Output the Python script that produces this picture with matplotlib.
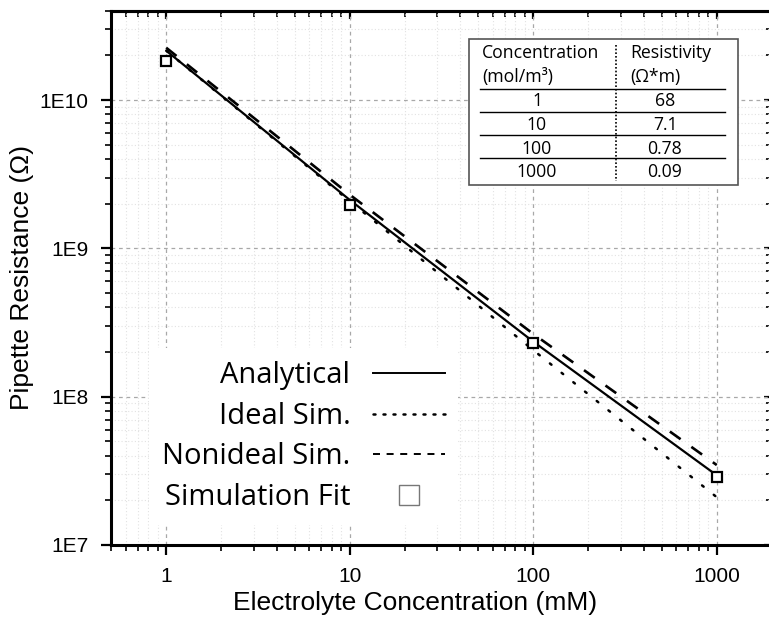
import matplotlib
matplotlib.use("Agg")
import matplotlib.pyplot as plt
from matplotlib.lines import Line2D
from matplotlib.patches import Rectangle
from matplotlib.ticker import LogLocator, FixedLocator, FixedFormatter, NullFormatter

# data
conc = [1, 10, 100, 1000]
analytical = [2.15e10, 2.12e9, 2.35e8, 2.95e7]
ideal_sim = [2.15e10, 2.08e9, 2.06e8, 2.1e7]
nonideal_sim = [2.25e10, 2.3e9, 2.65e8, 3.46e7]
sim_fit = [1.83e10, 1.96e9, 2.29e8, 2.88e7]

xtick_vals = [1, 10, 100, 1000]
xtick_labels = ["1", "10", "100", "1000"]
ytick_vals = [1e7, 1e8, 1e9, 1e10]
ytick_labels = ["1E7", "1E8", "1E9", "1E10"]

legend_labels = ["Analytical", "Ideal Sim.", "Nonideal Sim.", "Simulation Fit"]

table_header = [("Concentration", "Resistivity"), ("(mol/m\u00b3)", "(\u03a9*m)")]
table_conc = ["1", "10", "100", "1000"]
table_rho = ["68", "7.1", "0.78", "0.09"]

W, H = 769, 617
fig = plt.figure(figsize=(W / 100, H / 100), dpi=100)


def px(x, y):
    # pixel position -> figure fraction
    return x / W, 1 - y / H


ax = fig.add_axes([111 / W, (H - 545) / H, (772 - 111) / W, (545 - 10.7) / H])
ax.set_xscale("log")
ax.set_yscale("log")
ax.set_xlim(0.5, 2000)
ax.set_ylim(1e7, 4e10)

tick_font = {"family": "Liberation Sans", "size": 15}
label_font = {"family": "Liberation Sans", "size": 19}

ax.xaxis.set_major_locator(FixedLocator(xtick_vals))
ax.xaxis.set_major_formatter(FixedFormatter(xtick_labels))
ax.yaxis.set_major_locator(FixedLocator(ytick_vals))
ax.yaxis.set_major_formatter(FixedFormatter(ytick_labels))
for a in (ax.xaxis, ax.yaxis):
    a.set_minor_locator(LogLocator(base=10, subs=range(2, 10), numticks=20))
    a.set_minor_formatter(NullFormatter())
for lab in ax.get_xticklabels() + ax.get_yticklabels():
    lab.set_fontfamily(tick_font["family"])
    lab.set_fontsize(tick_font["size"])

ax.tick_params(which="major", direction="out", length=7, width=1.6, pad=9)
ax.tick_params(which="minor", direction="out", length=4, width=1.2)
ax.tick_params(axis="y", which="major", pad=9)
for s in ax.spines.values():
    s.set_linewidth(2.2)

# top / right ticks point inward
top = ax.secondary_xaxis("top")
top.xaxis.set_major_locator(FixedLocator(xtick_vals))
top.xaxis.set_minor_locator(LogLocator(base=10, subs=range(2, 10), numticks=20))
top.xaxis.set_major_formatter(NullFormatter())
top.xaxis.set_minor_formatter(NullFormatter())
top.tick_params(which="major", direction="in", length=6, width=1.6)
top.tick_params(which="minor", direction="in", length=4, width=1.2)
top.spines["top"].set_linewidth(2.2)
right = ax.secondary_yaxis("right")
right.yaxis.set_major_locator(FixedLocator(ytick_vals))
right.yaxis.set_minor_locator(LogLocator(base=10, subs=range(2, 10), numticks=20))
right.yaxis.set_major_formatter(NullFormatter())
right.yaxis.set_minor_formatter(NullFormatter())
right.tick_params(which="major", direction="in", length=6, width=1.6)
right.tick_params(which="minor", direction="in", length=4, width=1.2)

ax.grid(which="major", linestyle=(0, (3, 3)), color="#a8a8a8", linewidth=0.9)
ax.grid(which="minor", linestyle=(0, (1, 2)), color="#e2e2e2", linewidth=0.8)
ax.set_axisbelow(True)

ax.plot(conc, analytical, color="black", linewidth=1.6, solid_capstyle="butt", zorder=3)
ax.plot(conc, ideal_sim, color="black", linewidth=1.8, linestyle=(0, (0.8, 5.2)),
        dash_capstyle="round", zorder=3)
ax.plot(conc, nonideal_sim, color="black", linewidth=1.9, linestyle=(0, (5.0, 5.0)), zorder=3)
ax.plot(conc, sim_fit, linestyle="none", marker="s", markersize=7.5,
        markerfacecolor="white", markeredgecolor="black", markeredgewidth=1.6, zorder=4)

ax.set_xlabel("Electrolyte Concentration (mM)", fontdict=label_font)
ax.xaxis.set_label_coords((415 - 111) / (772 - 111), -(603 - 545) / (545 - 10.7), transform=ax.transAxes)
ax.xaxis.label.set_va("center")
ax.set_ylabel("Pipette Resistance (\u03a9)", fontdict=label_font, labelpad=4)

# legend: labels left, handles right
handles = [
    Line2D([], [], color="black", linewidth=1.4),
    Line2D([], [], color="black", linewidth=1.8, linestyle=(0, (0.8, 3.2)), dash_capstyle="round"),
    Line2D([], [], color="black", linewidth=1.4, linestyle=(0, (3.6, 3.4))),
    Line2D([], [], linestyle="none", marker="s", markersize=14,
           markerfacecolor="white", markeredgecolor="#777777", markeredgewidth=1.0),
]
leg = ax.legend(handles, legend_labels, loc="upper right",
                bbox_to_anchor=px(458, 348), bbox_transform=fig.transFigure,
                markerfirst=False, frameon=True, fancybox=False, framealpha=1,
                facecolor="white", edgecolor="none", borderpad=0.45,
                borderaxespad=0, handlelength=2.46, handletextpad=0.78,
                labelspacing=0.4, prop={"family": "Open Sans", "size": 21})
leg.set_zorder(5)

# resistivity table
tfont = {"family": "Open Sans", "size": 12.7, "color": "black"}
fig.patches.append(Rectangle(px(469, 185), (738 - 469) / W, (185 - 39) / H,
                             transform=fig.transFigure, facecolor="white",
                             edgecolor="#555555", linewidth=1.2, zorder=6))
header_y = [53, 77]
for (c, r), yy in zip(table_header, header_y):
    fig.text(*px(482, yy), c, ha="left", va="center", zorder=7, **tfont)
    fig.text(*px(630, yy), r, ha="left", va="center", zorder=7, **tfont)
row_y = [101, 125, 149, 172]
for c, r, yy in zip(table_conc, table_rho, row_y):
    fig.text(*px(537, yy), c, ha="center", va="center", zorder=7, **tfont)
    fig.text(*px(665, yy), r, ha="center", va="center", zorder=7, **tfont)
for yy in [89, 112, 135, 158]:
    x0, y0 = px(480, yy)
    x1, _ = px(725, yy)
    fig.add_artist(Line2D([x0, x1], [y0, y0], transform=fig.transFigure,
                          color="black", linewidth=1.0, zorder=7))
vx, vy0 = px(616, 45)
_, vy1 = px(616, 181)
fig.add_artist(Line2D([vx, vx], [vy0, vy1], transform=fig.transFigure, color="black",
                      linewidth=1.2, linestyle=(0, (1, 1.2)), zorder=7))

fig.savefig("out.png", dpi=100)
